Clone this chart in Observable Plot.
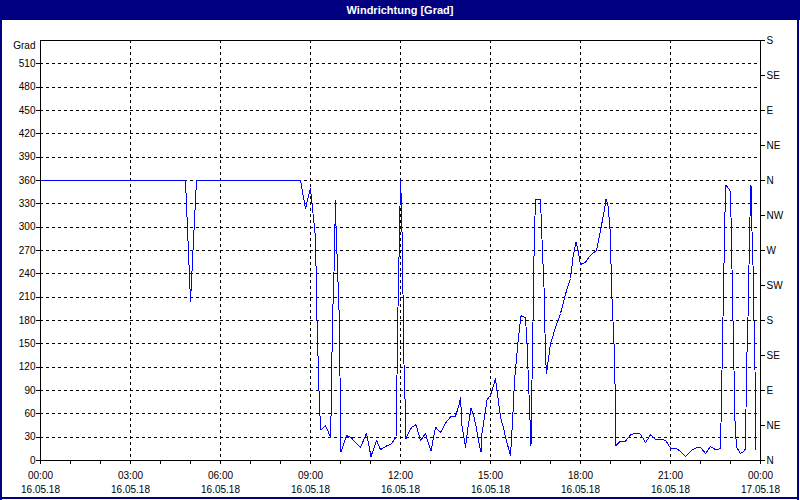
<!DOCTYPE html>
<html>
<head>
<meta charset="utf-8">
<script src="https://cdn.jsdelivr.net/npm/d3@7"></script>
<script src="https://cdn.jsdelivr.net/npm/@observablehq/plot@0.6"></script>
<style>
  html, body { margin: 0; padding: 0; background: #ffffff; }
  #win { position: relative; width: 800px; height: 500px; background: #ffffff; overflow: hidden; font-family: "Liberation Sans", Arial, sans-serif; }
  #titlebar { position: absolute; left: 0; top: 0; width: 800px; height: 20px; background: #000080; color: #ffffff; font-weight: bold; font-size: 11px; text-align: center; line-height: 20px; z-index: 3; }
  .bd { position: absolute; background: #000080; z-index: 3; }
  #chart { position: absolute; left: 0; top: 20px; width: 800px; height: 480px; z-index: 1; }
</style>
</head>
<body>
<div id="win">
  <div id="titlebar">Windrichtung [Grad]</div>
  <div class="bd" style="left:0;top:0;width:2px;height:500px"></div>
  <div class="bd" style="left:797px;top:0;width:2px;height:500px"></div>
  <div class="bd" style="left:0;top:497px;width:799px;height:2px"></div>
  <div id="chart"></div>
</div>
<script>
// Wind direction samples on 16.05.18 (time of day, degrees)
const times = ["00:00","04:50","05:00","05:12","08:40","08:50","09:00","09:03","09:10","09:13","09:18","09:21","09:30","09:40","09:41","09:44","09:47","09:50","09:51","09:58","10:00","10:01","10:12","10:20","10:40","10:52","11:01","11:12","11:20","11:33","11:41","11:51","11:52","11:55","11:57","11:59","12:00","12:02","12:04","12:07","12:10","12:11","12:16","12:23","12:31","12:40","12:43","12:50","12:53","13:01","13:10","13:20","13:30","13:40","13:50","13:57","14:00","14:03","14:10","14:15","14:21","14:27","14:32","14:37","14:41","14:43","14:50","14:53","15:00","15:10","15:13","15:20","15:27","15:30","15:40","15:43","15:45","15:48","15:51","15:55","16:01","16:10","16:13","16:18","16:21","16:23","16:25","16:28","16:31","16:40","16:44","16:47","16:50","16:52","17:00","17:10","17:20","17:30","17:40","17:45","17:51","17:55","18:00","18:10","18:20","18:32","18:40","18:47","18:51","18:55","18:59","19:03","19:07","19:09","19:11","19:20","19:30","19:40","19:50","20:00","20:10","20:20","20:30","20:40","20:50","21:00","21:10","21:20","21:30","21:40","21:50","22:00","22:10","22:20","22:30","22:40","22:41","22:43","22:45","22:47","22:49","22:51","23:00","23:01","23:03","23:05","23:07","23:09","23:12","23:20","23:27","23:30","23:32","23:35","23:37","23:39","23:41","23:42","23:45","23:47","23:49","23:50","23:51"];
const degrees = [360,360,205,360,360,324,350,330,287,180,67,39,45,30,56,180,242,334,302,176,43,11,32,30,17,35,5,26,14,19,21,30,64,197,261,326,360,328,260,124,58,28,36,43,46,26,28,35,28,12,43,36,48,56,57,71,81,45,17,43,67,56,41,22,11,35,64,78,84,105,90,56,39,30,6,39,62,103,124,152,186,184,150,69,19,103,178,304,336,335,268,223,135,112,150,171,189,214,234,261,281,270,252,255,264,270,296,319,336,328,298,208,150,99,19,25,25,33,35,34,23,33,27,27,26,16,16,12,5,12,16,17,9,18,14,15,47,116,184,253,319,354,346,313,246,180,116,51,17,9,12,15,116,184,251,313,354,317,251,180,116,47,13];

const hourTickLabels = ["00:00","03:00","06:00","09:00","12:00","15:00","18:00","21:00","00:00"];
const dateTickLabels = ["16.05.18","16.05.18","16.05.18","16.05.18","16.05.18","16.05.18","16.05.18","16.05.18","17.05.18"];
const gradTicks = [0,30,60,90,120,150,180,210,240,270,300,330,360,390,420,450,480,510];
const compassLabels = ["N","NE","E","SE","S","SW","W","NW","N","NE","E","SE","S"];
const yLabel = "Grad";

const data = times.map((t, i) => {
  const [h, m] = t.split(":").map(Number);
  return {hour: h + m / 60, deg: degrees[i]};
});

const majorHours = d3.range(0, 25, 3);
const allHours = d3.range(0, 25, 1);
const compassTicks = compassLabels.map((_, i) => i * 45);

const chart = Plot.plot({
  width: 800,
  height: 480,
  marginLeft: 40,
  marginRight: 40,
  marginTop: 20,
  marginBottom: 40,
  style: {background: "transparent", fontFamily: "'Liberation Sans', Arial, sans-serif", fontSize: "10px", color: "#000"},
  x: {domain: [0, 24], label: null},
  y: {domain: [0, 540], label: null},
  marks: [
    Plot.gridY(gradTicks.filter(d => d > 0), {stroke: "#000", strokeOpacity: 1, strokeDasharray: "3,3", shapeRendering: "crispEdges"}),
    Plot.gridX(majorHours.filter(d => d > 0 && d < 24), {stroke: "#000", strokeOpacity: 1, strokeDasharray: "3,3", shapeRendering: "crispEdges"}),
    Plot.line(data, {x: "hour", y: "deg", stroke: "#0000ff", strokeWidth: 1, shapeRendering: "crispEdges"}),
    Plot.frame({stroke: "#000", shapeRendering: "crispEdges"}),
    Plot.axisX(allHours, {tickSize: 4, tickFormat: () => "", label: null, shapeRendering: "crispEdges"}),
    Plot.axisX(majorHours, {tickSize: 4, tickPadding: 4, lineHeight: 1.45, label: null,
      tickFormat: d => hourTickLabels[d / 3] + "\n" + dateTickLabels[d / 3], fill: "#000"}),
    Plot.axisY(gradTicks, {anchor: "left", tickSize: 4, tickPadding: 1, label: null, fill: "#000", shapeRendering: "crispEdges"}),
    Plot.axisY([540], {anchor: "left", tickSize: 0, tickPadding: 5, dy: 5, label: null, tickFormat: () => yLabel, fill: "#000"}),
    Plot.axisY(compassTicks, {anchor: "right", tickSize: 4, tickPadding: 2, label: null, tickFormat: d => compassLabels[d / 45], fill: "#000", shapeRendering: "crispEdges"})
  ]
});
document.getElementById("chart").appendChild(chart);
</script>
</body>
</html>
